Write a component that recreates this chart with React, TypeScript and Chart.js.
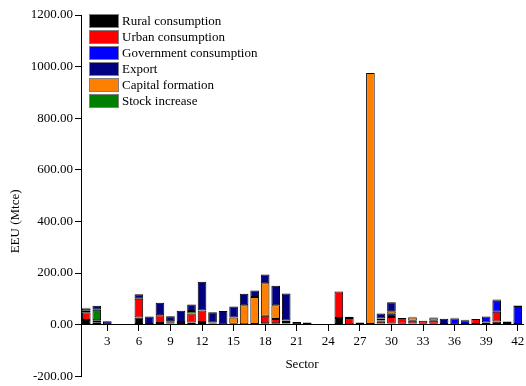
import { useEffect, useRef } from 'react';
import { Chart, registerables } from 'chart.js';

Chart.register(...registerables);

const sectors = ['1','2','3','4','5','6','7','8','9','10','11','12','13','14','15','16','17','18','19','20','21','22','23','24','25','26','27','28','29','30','31','32','33','34','35','36','37','38','39','40','41','42'];

const rural =      [18, 9, 1, 0, 0, 28, 2, 6, 4, 2, 8, 10, 4, 1, 3, 1, 0, 5, 5, 4, 1, 1, 0, 0, 26, 1, 2, 0, 4, 4, 3, 4, 3, 3, 2, 1, 0, 2, 2, 12, 10, 0];
const urban =      [30, 8, 0, 0, 0, 72, 0, 30, 5, 8, 35, 45, 4, 0, 0, 0, 0, 29, 17, 6, 0, 0, 0, 0, 102, 25, 6, 0, 9, 25, 23, 11, 12, 12, 0, 0, 0, 20, 6, 38, 0, 0];
const government = [0, 0, 0, 0, 0, 0, 0, 0, 0, 0, 0, 0, 0, 0, 0, 0, 0, 0, 0, 0, 0, 0, 0, 0, 0, 0, 0, 0, 3, 13, 0, 0, 0, 0, 0, 23, 17, 0, 23, 42, 0, 72];
const exportVals = [3, 15, 12, 1, 1, 18, 29, 49, 19, 44, 25, 111, 40, 52, 42, 45, 25, 34, 76, 105, 9, 7, 1, 0.5, 0, 4, 0, 0, 19, 35, 0, 2, 0, 3, 21, 3, 2, 0, 0, 5, 2, 2];
const capital =    [6, 0, 0, 0, 0, 0, 0, 0, 4, 0, 0, 0, 0, 0, 25, 74, 107, 126, 53, 6, 0, 0, 0, 0, 0, 0, 0, 975, 8, 10, 0, 13, 0, 10, 0, 0, 0, 0, 0, 0, 0, 0];
const stock =      [8, 41, 0, 0, 0, 0, 0, 0, 0, 0, 10, 0, 0, 0, 0, 0, 0, 0, 0, 0, 0, 0, 0, 0, 0, 0, 0, 0, 0, 0, 0, 0, 0, 0, 0, 0, 0, 0, 0, 0, 0, 0];

const yTicks = [-200, 0, 200, 400, 600, 800, 1000, 1200];

const seriesNames = ['Rural consumption', 'Urban consumption', 'Government consumption', 'Export', 'Capital formation', 'Stock increase'];
const seriesColors = ['#000000', '#ff0000', '#0000ff', '#000080', '#ff8000', '#008000'];
const seriesData = [rural, urban, government, exportVals, capital, stock];
// stacking order from bottom to top
const stackOrder = [0, 1, 2, 4, 5, 3];

const FONT = '"Liberation Serif", "Times New Roman", serif';

const overlayPlugin = {
  id: 'overlay',
  afterDraw(chart: any) {
    const { ctx, chartArea, scales } = chart;
    ctx.save();
    ctx.font = `13px ${FONT}`;
    ctx.textBaseline = 'middle';
    ctx.textAlign = 'left';
    seriesNames.forEach((name, i) => {
      const x = chartArea.left + 8;
      const y = chartArea.top - 1 + i * 16;
      ctx.fillStyle = seriesColors[i];
      ctx.fillRect(x, y, 30, 14);
      ctx.strokeStyle = '#808080';
      ctx.lineWidth = 1;
      ctx.strokeRect(x + 0.5, y + 0.5, 29, 13);
      ctx.fillStyle = '#000';
      ctx.fillText(name, x + 33, y + 7.5);
    });
    const yc = scales.y.getPixelForValue(400);
    ctx.translate(16, yc);
    ctx.rotate(-Math.PI / 2);
    ctx.textAlign = 'center';
    ctx.fillText('EEU (Mtce)', 0, 0);
    ctx.restore();
  },
};

export default function App() {
  const ref = useRef<HTMLCanvasElement | null>(null);
  useEffect(() => {
    if (!ref.current) return;
    const chart = new Chart(ref.current, {
      type: 'bar',
      data: {
        labels: sectors,
        datasets: stackOrder.map((si) => ({
          label: seriesNames[si],
          data: seriesData[si],
          backgroundColor: seriesColors[si],
          borderColor: '#000000',
          borderWidth: 1,
          borderSkipped: false,
          barPercentage: 0.82,
          categoryPercentage: 1,
        })),
      },
      options: {
        responsive: false,
        animation: false,
        layout: { padding: { top: 15, bottom: 9, left: 0, right: 3 } },
        plugins: {
          legend: { display: false },
          tooltip: { enabled: false },
        },
        scales: {
          x: {
            stacked: true,
            position: { y: 0 } as any,
            offset: true,
            afterFit: (s: any) => { s.paddingLeft = 0; s.paddingRight = 0; },
            grid: {
              drawOnChartArea: false,
              drawTicks: true,
              offset: false,
              tickLength: 6,
              color: (c: any) => ((c.index + 1) % 3 === 0 ? '#000' : 'rgba(0,0,0,0)'),
            },
            border: { display: true, color: '#000', width: 1 },
            ticks: {
              autoSkip: false,
              maxRotation: 0,
              padding: 3,
              color: '#000',
              font: { family: FONT, size: 13 },
              callback: (_v: any, i: number) => ((i + 1) % 3 === 0 ? sectors[i] : ''),
            },
            title: {
              display: true,
              text: 'Sector',
              color: '#000',
              font: { family: FONT, size: 13 },
              padding: { top: 5, bottom: 0 },
            },
          },
          y: {
            stacked: true,
            min: -200,
            max: 1200,
            afterFit: (s: any) => { s.width = 81; },
            afterBuildTicks: (s: any) => { s.ticks = yTicks.map((v) => ({ value: v })); },
            grid: {
              drawOnChartArea: false,
              drawTicks: true,
              tickLength: 6,
              color: '#000',
            },
            border: { display: true, color: '#000', width: 1 },
            ticks: {
              padding: 2,
              color: '#000',
              font: { family: FONT, size: 13 },
              callback: (v: any) => Number(v).toFixed(2),
            },
          },
        },
      },
      plugins: [overlayPlugin],
    });
    return () => chart.destroy();
  }, []);
  return (
    <div style={{ position: 'absolute', left: 0, top: 0, width: 526, height: 386, background: '#fff' }}>
      <canvas ref={ref} width={526} height={386} />
    </div>
  );
}
